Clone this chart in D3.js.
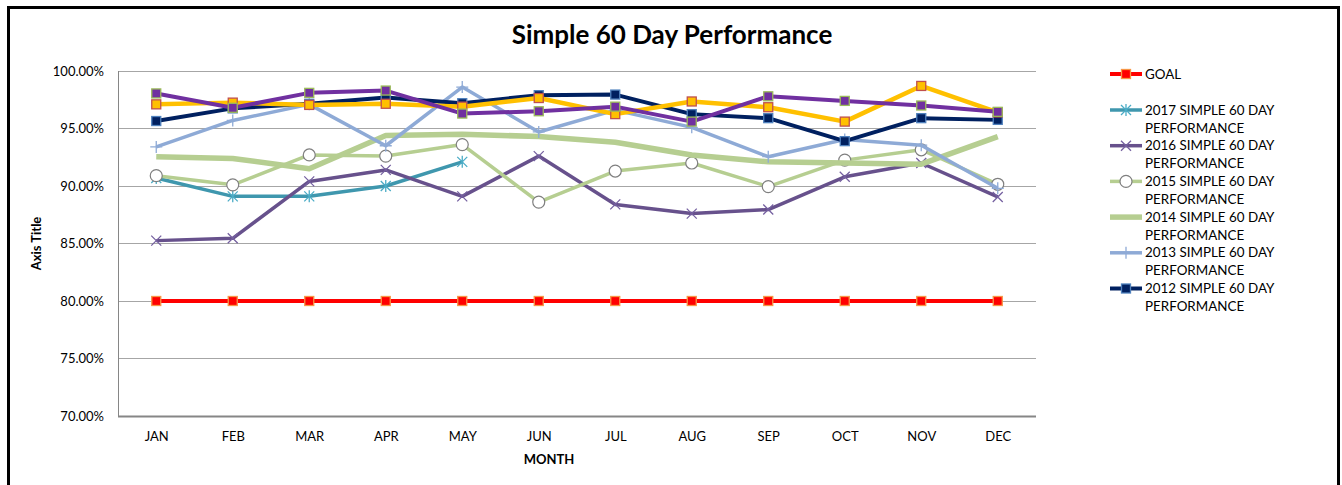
<html>
<head>
<script src="https://d3js.org/d3.v7.min.js"></script>
<style>
body { margin: 0; background: #fff; }
text { font-family: Lato, "Open Sans", sans-serif; fill: #000; }
.grid line { stroke: #a6a6a6; stroke-width: 1; shape-rendering: crispEdges; }
.axis path, .axis line { display: none; }
.axis text { font-size: 13px; }
</style>
</head>
<body>
<svg width="1342" height="485"></svg>
<script>

// ---- data ----
var months = ["JAN","FEB","MAR","APR","MAY","JUN","JUL","AUG","SEP","OCT","NOV","DEC"];
var yTicks = [70, 75, 80, 85, 90, 95, 100];

var goal    = [80, 80, 80, 80, 80, 80, 80, 80, 80, 80, 80, 80];
var perf2017 = [90.7, 89.1, 89.1, 90.0, 92.1, null, null, null, null, null, null, null];
var perf2016 = [85.25, 85.45, 90.4, 91.4, 89.1, 92.6, 88.4, 87.6, 87.95, 90.8, 92.0, 89.05];
var perf2015 = [90.9, 90.1, 92.7, 92.6, 93.6, 88.6, 91.3, 92.0, 89.95, 92.25, 93.15, 90.15];
var perf2014 = [92.55, 92.4, 91.5, 94.4, 94.5, 94.3, 93.8, 92.7, 92.1, 92.0, 91.9, 94.3];
var perf2013 = [93.4, 95.7, 97.1, 93.5, 98.6, 94.7, 96.6, 95.1, 92.55, 94.05, 93.55, 89.8];
var perf2012 = [95.65, 96.75, 97.15, 97.7, 97.2, 97.9, 97.95, 96.25, 95.9, 93.9, 95.9, 95.75];
var perfYellow = [97.1, 97.25, 97.05, 97.15, 96.9, 97.65, 96.25, 97.35, 96.85, 95.6, 98.7, 96.4];
var perfPurple = [98.05, 96.8, 98.1, 98.3, 96.3, 96.5, 96.9, 95.6, 97.8, 97.4, 97.0, 96.45];

var legendNames = ["GOAL", "2017 SIMPLE 60 DAY PERFORMANCE", "2016 SIMPLE 60 DAY PERFORMANCE",
  "2015 SIMPLE 60 DAY PERFORMANCE", "2014 SIMPLE 60 DAY PERFORMANCE",
  "2013 SIMPLE 60 DAY PERFORMANCE", "2012 SIMPLE 60 DAY PERFORMANCE"];

// drawing order = Excel series order (later ones on top)
var series = [
  {name: legendNames[0], values: goal,     color: "#ff0000", width: 4,   marker: "square", fill: "#ff0000", stroke: "#f79646"},
  {name: legendNames[1], values: perf2017, color: "#3f97ae", width: 3.5, marker: "star",   fill: "none",    stroke: "#4bacc6"},
  {name: legendNames[2], values: perf2016, color: "#67518c", width: 3.5, marker: "x",      fill: "none",    stroke: "#7560a0"},
  {name: legendNames[3], values: perf2015, color: "#b6ce91", width: 3.5, marker: "circle", fill: "#ffffff", stroke: "#7f7f7f"},
  {name: legendNames[4], values: perf2014, color: "#b6ce91", width: 5.5, marker: "none"},
  {name: legendNames[5], values: perf2013, color: "#8eaad6", width: 3.5, marker: "plus",   fill: "none",    stroke: "#8eaad6"},
  {name: legendNames[6], values: perf2012, color: "#002060", width: 4,   marker: "square", fill: "#002060", stroke: "#4f81bd"},
  {name: "",             values: perfYellow, color: "#ffc000", width: 4.5, marker: "square", fill: "#ffc000", stroke: "#c0504d"},
  {name: "",             values: perfPurple, color: "#7030a0", width: 4,   marker: "square", fill: "#7030a0", stroke: "#9bbb59"}
];

var svg = d3.select("svg");
var margin = {top: 71, left: 118, right: 306, bottom: 69};
var width = 1342 - margin.left - margin.right,
    height = 485 - margin.top - margin.bottom;

// chart border
svg.append("rect")
    .attr("x", 8.5).attr("y", 7.5)
    .attr("width", 1330).attr("height", 490)
    .attr("fill", "none").attr("stroke", "#000").attr("stroke-width", 3);

var x = d3.scalePoint().domain(months).range([0, width]).padding(0.5);
var y = d3.scaleLinear().domain([70, 100]).range([height, 0]);

var g = svg.append("g").attr("transform", "translate(" + margin.left + "," + margin.top + ")");

g.append("g").attr("class", "grid")
  .selectAll("line").data(yTicks.filter(function(d) { return d > 70; })).enter().append("line")
    .attr("x1", 0).attr("x2", width)
    .attr("y1", function(d) { return y(d); }).attr("y2", function(d) { return y(d); });

// axis lines
g.append("line").attr("x1", 0.5).attr("x2", 0.5).attr("y1", 0).attr("y2", height)
  .attr("stroke", "#868686").attr("stroke-width", 1);
g.append("line").attr("x1", 0).attr("x2", width).attr("y1", height + 0.5).attr("y2", height + 0.5)
  .attr("stroke", "#868686").attr("stroke-width", 2);

g.append("g").attr("class", "axis")
  .call(d3.axisLeft(y).tickValues(yTicks).tickSize(0).tickPadding(14)
        .tickFormat(function(d) { return d.toFixed(2) + "%"; }));

g.append("g").attr("class", "axis")
  .attr("transform", "translate(0," + height + ")")
  .call(d3.axisBottom(x).tickSize(0).tickPadding(16));

var line = d3.line()
  .defined(function(d) { return d != null; })
  .x(function(d, i) { return x(months[i]); })
  .y(function(d) { return y(d); });

function drawMarker(sel, s) {
  if (s.marker == "square") {
    sel.append("rect").attr("x", -4.5).attr("y", -4.5).attr("width", 9).attr("height", 9)
      .attr("fill", s.fill).attr("stroke", s.stroke).attr("stroke-width", 1.3);
  } else if (s.marker == "circle") {
    sel.append("circle").attr("r", 6).attr("fill", s.fill).attr("stroke", s.stroke).attr("stroke-width", 1.2);
  } else if (s.marker == "x") {
    sel.append("path").attr("d", "M-5,-5L5,5M-5,5L5,-5").attr("stroke", s.stroke).attr("stroke-width", 1.3).attr("fill", "none");
  } else if (s.marker == "plus") {
    sel.append("path").attr("d", "M-6,0L6,0M0,-6L0,6").attr("stroke", s.stroke).attr("stroke-width", 1.3).attr("fill", "none");
  } else if (s.marker == "star") {
    sel.append("path").attr("d", "M-5,-5L5,5M-5,5L5,-5M0,-6L0,6").attr("stroke", s.stroke).attr("stroke-width", 1.3).attr("fill", "none");
  }
}

series.forEach(function(s) {
  g.append("path").datum(s.values)
    .attr("fill", "none").attr("stroke", s.color).attr("stroke-width", s.width)
    .attr("stroke-linejoin", "round")
    .attr("d", line);
  g.selectAll(null).data(s.values.map(function(v, i) { return {v: v, i: i}; }).filter(function(d) { return d.v != null; }))
    .enter().append("g")
    .attr("transform", function(d) { return "translate(" + x(months[d.i]) + "," + y(d.v) + ")"; })
    .each(function() { drawMarker(d3.select(this), s); });
});

// titles
svg.append("text").attr("x", 672).attr("y", 44).attr("text-anchor", "middle")
  .style("font-size", "26px").style("font-weight", "bold").text("Simple 60 Day Performance");
svg.append("text").attr("transform", "translate(41," + (margin.top + height / 2) + ") rotate(-90)")
  .attr("text-anchor", "middle").style("font-size", "13px").style("font-weight", "bold").text("Axis Title");
svg.append("text").attr("x", 549).attr("y", 464).attr("text-anchor", "middle")
  .style("font-size", "13px").style("font-weight", "bold").text("MONTH");

// legend
var legend = svg.append("g").attr("transform", "translate(1110,74)");
series.filter(function(s) { return s.name != ""; }).forEach(function(s, i) {
  var ly = i == 0 ? 0 : 36 + (i - 1) * 35.7;
  var item = legend.append("g").attr("transform", "translate(0," + ly + ")");
  item.append("line").attr("x1", 0).attr("x2", 32).attr("y1", 0).attr("y2", 0)
    .attr("stroke", s.color).attr("stroke-width", s.width);
  var m = item.append("g").attr("transform", "translate(16,0)");
  drawMarker(m, s);
  var words = s.name == "GOAL" ? ["GOAL"] : [s.name.replace(" PERFORMANCE", ""), "PERFORMANCE"];
  var t = item.append("text").attr("x", 35).attr("y", 4.5).style("font-size", "13.4px");
  words.forEach(function(w, j) {
    t.append("tspan").attr("x", 35).attr("dy", j == 0 ? 0 : 18).text(w);
  });
});

</script>
</body>
</html>
